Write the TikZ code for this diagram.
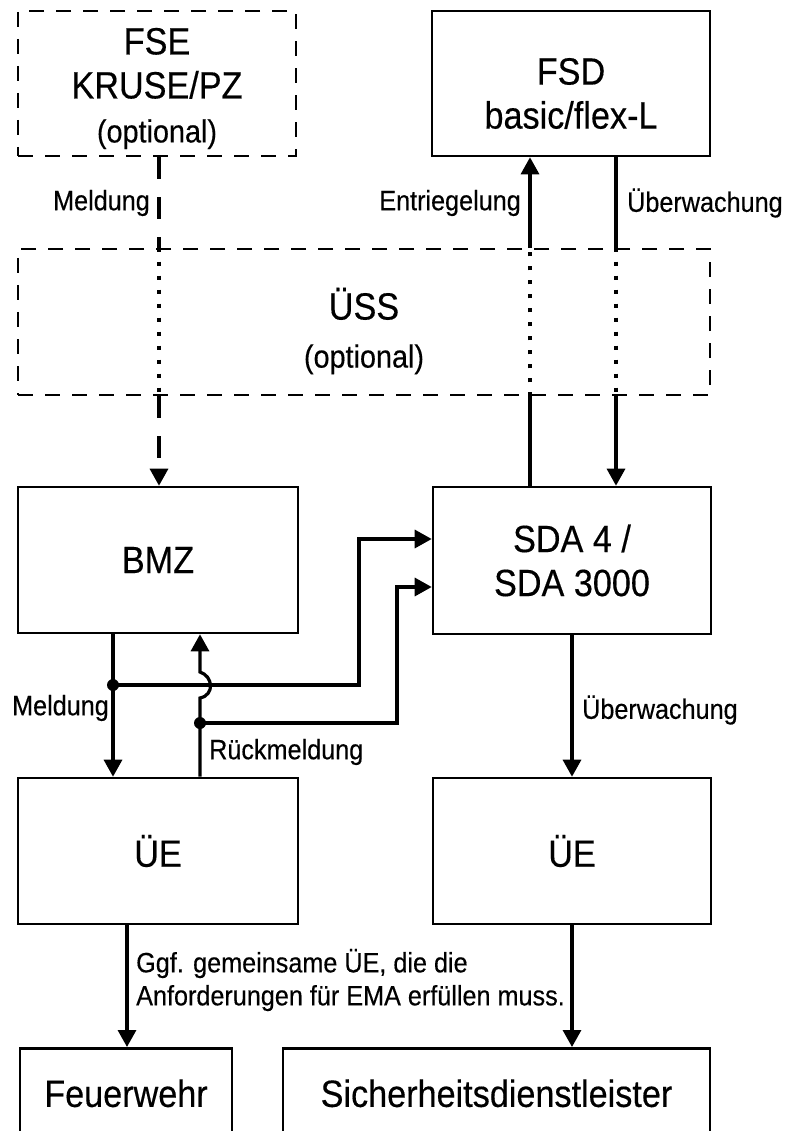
\documentclass[tikz,border=0pt]{standalone}
\usepackage{fontspec}
\setmainfont{Liberation Sans}[FakeStretch=0.9,FakeBold=0.35]
\usetikzlibrary{arrows.meta}
\newcommand\fbig{\fontsize{38}{44}\selectfont}
\newcommand\fopt{\fontsize{32}{40}\selectfont}
\newcommand\fsml{\fontsize{28}{33}\selectfont}
\begin{document}
\begin{tikzpicture}[x=1pt,y=-1pt,
  blk/.style={draw, line width=2.6pt, inner sep=0pt, align=center, font=\fbig},
  dbox/.style={blk, dash pattern=on 15pt off 12pt},
  txt/.style={inner sep=0pt, align=center, font=\fbig},
  lbl/.style={inner sep=0pt, font=\fsml},
  lw/.style={line width=3.2pt},
  arr/.style={lw, -{Triangle[length=17pt,width=18pt]}},
  mdash/.style={lw, dash pattern=on 22pt off 18pt},
  dotl/.style={lw, dash pattern=on 4pt off 10pt}]
\useasboundingbox (0,0) rectangle (785,1131);

% boxes
\node[dbox, minimum width=278, minimum height=145] (FSE) at (157,83.5) {};
\node[txt] (FSEt) at ([yshift=-5pt]FSE.center) {FSE\\KRUSE/PZ\\{\fopt (optional)}};
\node[blk, minimum width=278, minimum height=145] (FSD) at (571,83.5) {};
\node[txt] (FSDt) at ([yshift=-10pt]FSD.center) {FSD\\basic/flex-L};
\node[dbox, minimum width=692, minimum height=146] (USS) at (364,322) {};
\node[txt] (USSt) at ([yshift=-9pt]USS.center) {ÜSS\\[4pt]{\fopt (optional)}};
\node[blk, minimum width=280, minimum height=146] (BMZ) at (158,560) {BMZ};
\node[blk, minimum width=278, minimum height=147] (SDA) at (572,560.5) {SDA 4 /\\SDA 3000};
\node[blk, minimum width=280, minimum height=146] (UEL) at (158,851) {ÜE};
\node[blk, minimum width=278, minimum height=146] (UER) at (572,851) {ÜE};
\node[blk, minimum width=212, minimum height=90, anchor=north] (FW) at (126,1047) {Feuerwehr};
\node[blk, minimum width=427, minimum height=90, anchor=north] (SDL) at (496.5,1047) {Sicherheitsdienstleister};

% x positions of connectors
\coordinate (xM) at (159,0);
\coordinate (xE) at (530,0);
\coordinate (xU) at (616,0);
\coordinate (xL) at (113,0);
\coordinate (xR) at (200,0);
\coordinate (xF) at (127,0);
\coordinate (xS) at (572,0);
\coordinate (J1) at (113,685);
\coordinate (J2) at (200,723);
\coordinate (K1) at (359,539);
\coordinate (K2) at (397,587);

% Meldung FSE -> BMZ
\draw[mdash] (xM |- FSE.south) -- (xM |- USS.north);
\draw[dotl] (xM |- USS.north) -- (xM |- USS.south);
\draw[mdash, arr] (xM |- USS.south) -- (xM |- BMZ.north);

% Entriegelung SDA -> FSD
\draw[lw] (xE |- SDA.north) -- (xE |- USS.south);
\draw[dotl] (xE |- USS.south) -- (xE |- USS.north);
\draw[arr] (xE |- USS.north) -- (xE |- FSD.south);

% Ueberwachung FSD -> SDA
\draw[lw] (xU |- FSD.south) -- (xU |- USS.north);
\draw[dotl] (xU |- USS.north) -- (xU |- USS.south);
\draw[arr] (xU |- USS.south) -- (xU |- SDA.north);

% BMZ -> UE (Meldung)
\draw[arr] (xL |- BMZ.south) -- (xL |- UEL.north);
% UE -> BMZ (Rueckmeldung) with hop
\draw[arr] (xR |- UEL.north) -- (200,698) .. controls (215,695) and (213,676) .. (200,672) -- (xR |- BMZ.south);

% branches to SDA
\draw[arr] (J1) -- (J1 -| K1) -- (K1) -- (SDA.west |- K1);
\draw[arr] (J2) -- (J2 -| K2) -- (K2) -- (SDA.west |- K2);
\fill (J1) circle (6pt);
\fill (J2) circle (6pt);

% SDA -> UE right
\draw[arr] (xS |- SDA.south) -- (xS |- UER.north);
% bottom arrows
\draw[arr] (xF |- UEL.south) -- (xF |- FW.north);
\draw[arr] (xS |- UER.south) -- (xS |- SDL.north);

% labels
\node[lbl, anchor=east] (lMeld1) at (150,203) {Meldung};
\node[lbl, anchor=east] (lEnt) at (521,203) {Entriegelung};
\node[lbl, anchor=west] (lUeb1) at (627,203) {Überwachung};
\node[lbl, anchor=east] (lMeld2) at (109,708) {Meldung};
\node[lbl, anchor=west] (lRueck) at (209,752) {Rückmeldung};
\node[lbl, anchor=west] (lUeb2) at (582,710) {Überwachung};
\node[lbl, anchor=west, align=left] (lGgf) at (136,980) {Ggf. gemeinsame ÜE, die die\\Anforderungen für EMA erfüllen muss.};
\end{tikzpicture}
\end{document}
